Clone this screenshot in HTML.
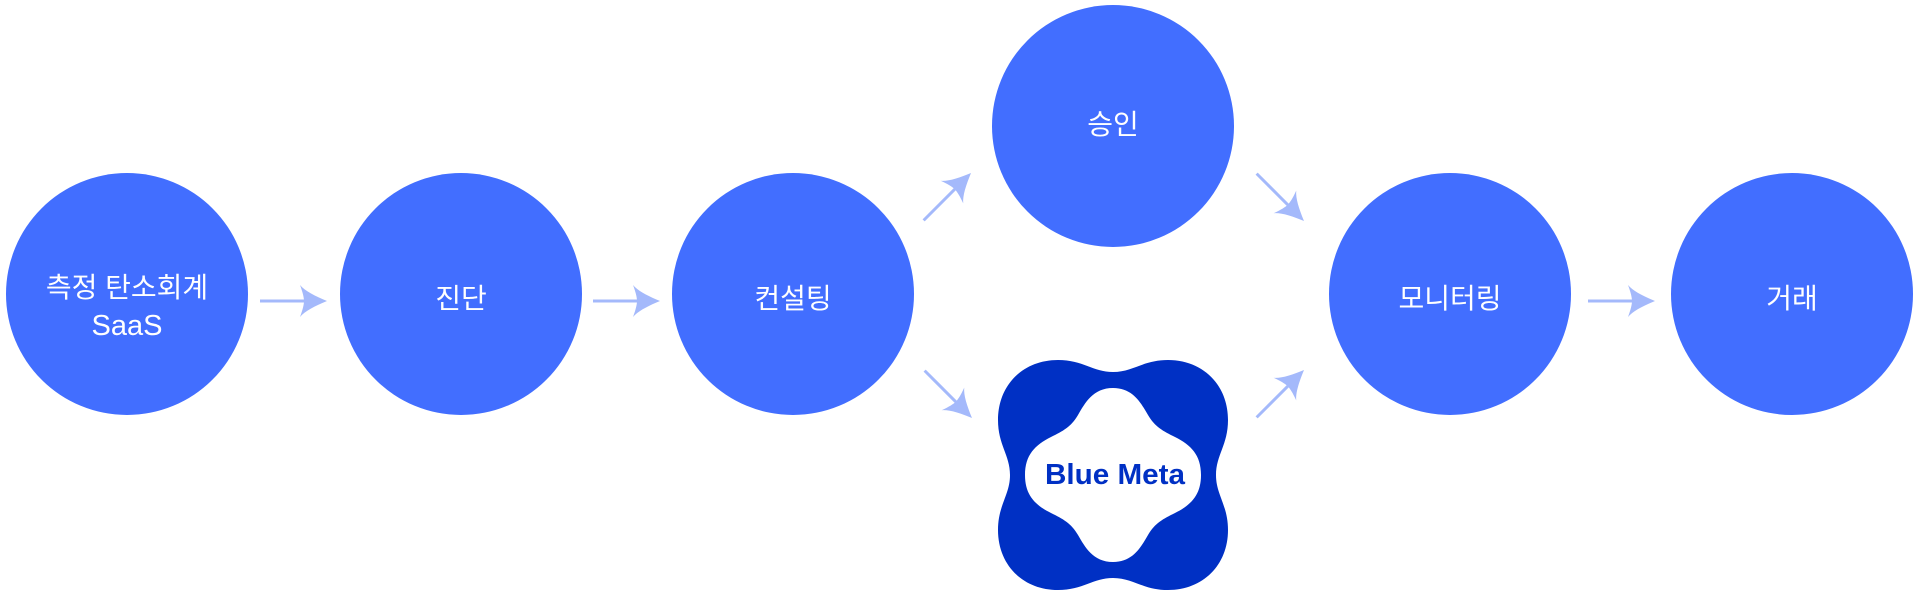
<!DOCTYPE html>
<html><head><meta charset="utf-8"><style>
html,body{margin:0;padding:0;background:#fff;}
svg{display:block}
text{font-family:"Liberation Sans","Noto Sans CJK KR",sans-serif;}
.kr{font-family:"Noto Sans CJK KR","Liberation Sans",sans-serif;}
</style></head><body>
<svg width="1919" height="598" viewBox="0 0 1919 598" xmlns="http://www.w3.org/2000/svg">
<defs>
<g id="ah"><line x1="-67" y1="0" x2="-12" y2="0" stroke="#a4b9fb" stroke-width="3"/><path d="M0 0 C-12 -5 -22 -10 -27 -16 C-24 -8 -23 -3 -23 0 C-23 3 -24 8 -27 16 C-22 10 -12 5 0 0 Z" fill="#a4b9fb"/></g>
</defs>
<g fill="#426eff">
<circle cx="127" cy="294" r="121"/>
<circle cx="461" cy="294" r="121"/>
<circle cx="793" cy="294" r="121"/>
<circle cx="1113" cy="126" r="121"/>
<circle cx="1450" cy="294" r="121"/>
<circle cx="1792" cy="294" r="121"/>
</g>
<use href="#ah" transform="translate(327,301)"/>
<use href="#ah" transform="translate(660,301)"/>
<use href="#ah" transform="translate(1655,301)"/>
<use href="#ah" transform="translate(971,173) rotate(-45)"/>
<use href="#ah" transform="translate(972,418) rotate(45)"/>
<use href="#ah" transform="translate(1304,221) rotate(45)"/>
<use href="#ah" transform="translate(1304,370) rotate(-45)"/>

<g transform="translate(1113,475)">
<path fill="#0030c4" d="M-55 -115 C-30 -115 -20 -103 0 -103 C20 -103 30 -115 55 -115 C90 -115 115 -90 115 -55 C115 -30 103 -20 103 0 C103 20 115 30 115 55 C115 90 90 115 55 115 C30 115 20 103 0 103 C-20 103 -30 115 -55 115 C-90 115 -115 90 -115 55 C-115 30 -103 20 -103 0 C-103 -20 -115 -30 -115 -55 C-115 -90 -90 -115 -55 -115 Z"/>
<path fill="#fff" d="M0 -87 C20 -87 28 -72 35 -60 C42 -48 50 -44 62 -38 C78 -30 88 -20 88 0 C88 20 78 30 62 38 C50 44 42 48 35 60 C28 72 20 87 0 87 C-20 87 -28 72 -35 60 C-42 48 -50 44 -62 38 C-78 30 -88 20 -88 0 C-88 -20 -78 -30 -62 -38 C-50 -44 -42 -48 -35 -60 C-28 -72 -20 -87 0 -87 Z"/>
</g>

<g fill="#fff" font-size="28" text-anchor="middle" class="kr">
<text x="127" y="297">측정 탄소회계</text>
<text x="127" y="335" font-size="29" style="font-family:'Liberation Sans',sans-serif">SaaS</text>
<text x="461" y="308">진단</text>
<text x="793" y="308">컨설팅</text>
<text x="1113" y="134">승인</text>
<text x="1450" y="308">모니터링</text>
<text x="1792" y="308">거래</text>
</g>
<text x="1115" y="484" font-size="29" font-weight="bold" fill="#0030c4" text-anchor="middle" textLength="140" lengthAdjust="spacingAndGlyphs">Blue Meta</text>
</svg>
</body></html>
